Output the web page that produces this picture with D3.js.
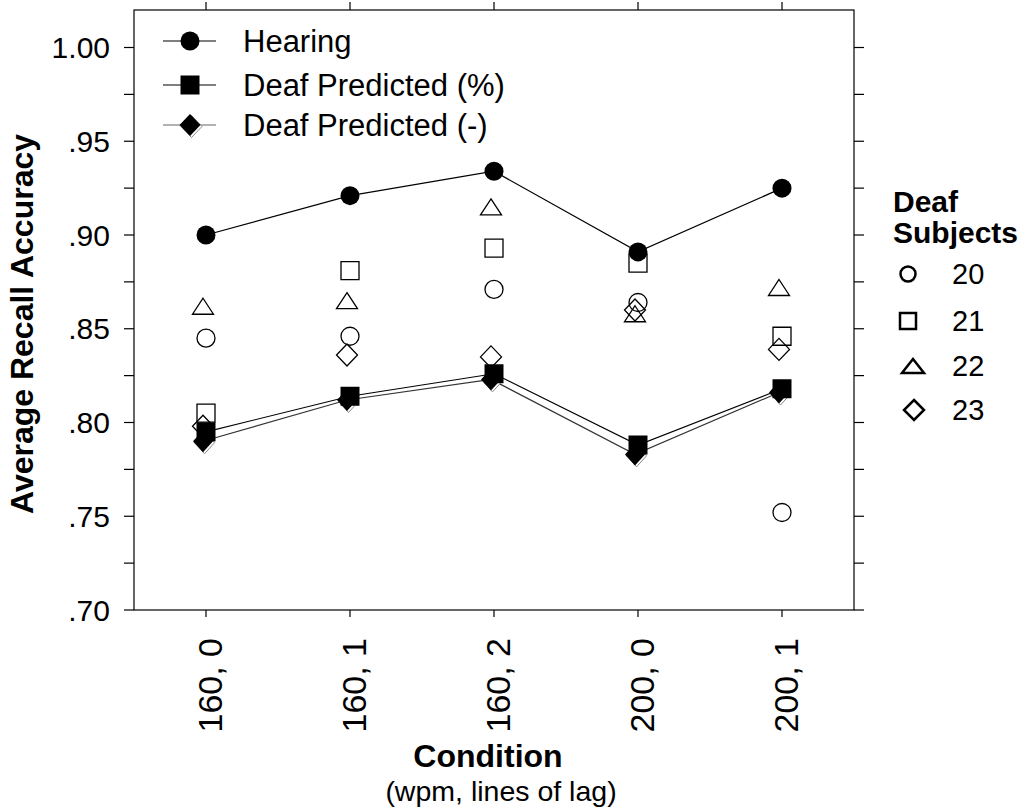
<!DOCTYPE html>
<html>
<head>
<meta charset="utf-8">
<script src="https://cdn.jsdelivr.net/npm/d3@7"></script>
<style>
  body { margin: 0; background: #fff; }
  svg { display: block; }
  text { font-family: Arial, "Liberation Sans", sans-serif; fill: #000; }
</style>
</head>
<body>
<svg id="chart" width="1030" height="810"></svg>
<script>
// Conditions: words per minute, lines of lag
const conditions = ["160, 0", "160, 1", "160, 2", "200, 0", "200, 1"];

// Group means
const hearing       = [0.900, 0.921, 0.934, 0.891, 0.925];
const deafPredPct   = [0.795, 0.814, 0.826, 0.788, 0.818];
const deafPredMinus = [0.790, 0.812, 0.823, 0.783, 0.816];

// Individual deaf subjects
const subjectIds = ["20", "21", "22", "23"];
const subject20 = [0.845, 0.846, 0.871, 0.864, 0.752];
const subject21 = [0.805, 0.881, 0.893, 0.885, 0.846];
const subject22 = [0.862, 0.865, 0.915, 0.858, 0.872];
const subject23 = [0.798, 0.836, 0.835, 0.860, 0.839];

// Y axis
const yMajorTicks = [0.70, 0.75, 0.80, 0.85, 0.90, 0.95, 1.00];
const yTickLabels = [".70", ".75", ".80", ".85", ".90", ".95", "1.00"];
const yMinorTicks = [0.725, 0.775, 0.825, 0.875, 0.925, 0.975];

const legendLabels = ["Hearing", "Deaf Predicted (%)", "Deaf Predicted (-)"];

const svg = d3.select("#chart");
const plotL = 134, plotR = 854, plotT = 10, plotB = 610;

const x = d3.scalePoint().domain(conditions).range([plotL, plotR]).padding(0.5);
const y = d3.scaleLinear().domain([0.70, 1.02]).range([plotB, plotT]);

// Shape outlines centred on the origin
function shapePath(type, w, h) {
  const a = w / 2, b = h / 2;
  switch (type) {
    case "circle":
      return `M${-a},0A${a},${b} 0 1,0 ${a},0A${a},${b} 0 1,0 ${-a},0Z`;
    case "square":
      return `M${-a},${-b}H${a}V${b}H${-a}Z`;
    case "triangle":
      return `M0,${-b}L${a},${b}L${-a},${b}Z`;
    case "diamond":
      return `M0,${-b}L${a},0L0,${b}L${-a},0Z`;
  }
}

const g = svg.append("g");

// Frame
g.append("rect")
  .attr("x", plotL).attr("y", plotT)
  .attr("width", plotR - plotL).attr("height", plotB - plotT)
  .attr("fill", "none").attr("stroke", "#000").attr("stroke-width", 1.2);

// Y ticks on both sides (outward)
const allY = yMajorTicks.concat(yMinorTicks);
g.selectAll(".ytl").data(allY).join("line")
  .attr("x1", plotL - 10).attr("x2", plotL)
  .attr("y1", d => y(d)).attr("y2", d => y(d))
  .attr("stroke", "#000").attr("stroke-width", 1.2);
g.selectAll(".ytr").data(allY).join("line")
  .attr("x1", plotR).attr("x2", plotR + 10)
  .attr("y1", d => y(d)).attr("y2", d => y(d))
  .attr("stroke", "#000").attr("stroke-width", 1.2);

// X ticks top and bottom (outward)
g.selectAll(".xtt").data(conditions).join("line")
  .attr("x1", d => x(d)).attr("x2", d => x(d))
  .attr("y1", plotT - 8).attr("y2", plotT)
  .attr("stroke", "#000").attr("stroke-width", 1.2);
g.selectAll(".xtb").data(conditions).join("line")
  .attr("x1", d => x(d)).attr("x2", d => x(d))
  .attr("y1", plotB).attr("y2", plotB + 7)
  .attr("stroke", "#000").attr("stroke-width", 1.2);

// Y tick labels
g.selectAll(".ylab").data(yMajorTicks).join("text")
  .attr("x", 110).attr("y", d => y(d)).attr("dy", "0.35em")
  .attr("text-anchor", "end").attr("font-size", 30)
  .text((d, i) => yTickLabels[i]);

// X tick labels (rotated, reading upward)
g.selectAll(".xlab").data(conditions).join("text")
  .attr("transform", d => `translate(${x(d) + 16},638) rotate(-90)`)
  .attr("text-anchor", "end").attr("font-size", 34)
  .text(d => d);

// Axis titles
g.append("text")
  .attr("transform", "translate(33,324) rotate(-90)")
  .attr("text-anchor", "middle")
  .attr("font-size", 32).attr("font-weight", "bold")
  .text("Average Recall Accuracy");
g.append("text")
  .attr("x", 488).attr("y", 767).attr("text-anchor", "middle")
  .attr("font-size", 32).attr("font-weight", "bold").text("Condition");
g.append("text")
  .attr("x", 501).attr("y", 801).attr("text-anchor", "middle")
  .attr("font-size", 28.5).text("(wpm, lines of lag)");

// Individual subjects: open markers
const subjectSeries = [
  { id: subjectIds[0], values: subject20, shape: "circle",   w: 18, h: 18, dx: 0 },
  { id: subjectIds[1], values: subject21, shape: "square",   w: 18, h: 18, dx: 0 },
  { id: subjectIds[2], values: subject22, shape: "triangle", w: 21, h: 16, dx: -3 },
  { id: subjectIds[3], values: subject23, shape: "diamond",  w: 21, h: 22, dx: -3 }
];
subjectSeries.forEach(s => {
  g.selectAll(null).data(s.values).join("path")
    .attr("transform", (d, i) => `translate(${x(conditions[i]) + s.dx},${y(d)})`)
    .attr("d", shapePath(s.shape, s.w, s.h))
    .attr("fill", "none").attr("stroke", "#000").attr("stroke-width", 1.3);
});

// Group lines
const line = d3.line().x((d, i) => x(conditions[i])).y(d => y(d));
const lineMinus = d3.line().x((d, i) => x(conditions[i]) - 3).y(d => y(d));

g.append("path").datum(deafPredMinus).attr("d", lineMinus)
  .attr("fill", "none").attr("stroke", "#333").attr("stroke-width", 1.2);
g.append("path").datum(deafPredPct).attr("d", line)
  .attr("fill", "none").attr("stroke", "#000").attr("stroke-width", 1.2);
g.append("path").datum(hearing).attr("d", line)
  .attr("fill", "none").attr("stroke", "#000").attr("stroke-width", 1.2);

// Filled diamond with a light shadow edge
function shadedDiamond(sel, w, h) {
  sel.append("path").attr("d", shapePath("diamond", w, h))
    .attr("transform", "translate(1.5,1.5)")
    .attr("fill", "#fff").attr("stroke", "#888").attr("stroke-width", 1);
  sel.append("path").attr("d", shapePath("diamond", w, h)).attr("fill", "#000");
}

g.selectAll(null).data(deafPredMinus).join("g")
  .attr("transform", (d, i) => `translate(${x(conditions[i]) - 3},${y(d)})`)
  .each(function () { shadedDiamond(d3.select(this), 20, 22); });

g.selectAll(null).data(deafPredPct).join("path")
  .attr("transform", (d, i) => `translate(${x(conditions[i])},${y(d)})`)
  .attr("d", shapePath("square", 19, 19)).attr("fill", "#000");

g.selectAll(null).data(hearing).join("path")
  .attr("transform", (d, i) => `translate(${x(conditions[i])},${y(d)})`)
  .attr("d", shapePath("circle", 19, 19)).attr("fill", "#000");

// Group legend (inside plot, top left)
const legRows = [41, 85, 125];
const leg = g.append("g");
legRows.forEach((ly, i) => {
  leg.append("line").attr("x1", 163).attr("x2", 216).attr("y1", ly).attr("y2", ly)
    .attr("stroke", i === 2 ? "#666" : "#000").attr("stroke-width", 1.2);
  const m = leg.append("g").attr("transform", `translate(190,${ly})`);
  if (i === 0) m.append("path").attr("d", shapePath("circle", 19, 19)).attr("fill", "#000");
  if (i === 1) m.append("path").attr("d", shapePath("square", 19, 19)).attr("fill", "#000");
  if (i === 2) shadedDiamond(m, 21, 22);
  leg.append("text").attr("x", 243).attr("y", ly).attr("dy", "0.36em")
    .attr("font-size", 31).text(legendLabels[i]);
});

// Subject legend (right side)
const sl = g.append("g");
sl.append("text").attr("x", 893).attr("y", 212).attr("font-size", 30)
  .attr("font-weight", "bold").text("Deaf");
sl.append("text").attr("x", 893).attr("y", 243).attr("font-size", 30)
  .attr("font-weight", "bold").text("Subjects");
const subRows = [274, 321, 366, 410];
const legShapes = [
  { shape: "circle",   w: 15, h: 15, cx: 908 },
  { shape: "square",   w: 16, h: 16, cx: 908 },
  { shape: "triangle", w: 22, h: 14, cx: 913 },
  { shape: "diamond",  w: 20, h: 20, cx: 914 }
];
subjectIds.forEach((id, i) => {
  sl.append("path").attr("d", shapePath(legShapes[i].shape, legShapes[i].w, legShapes[i].h))
    .attr("transform", `translate(${legShapes[i].cx},${subRows[i]})`)
    .attr("fill", "none").attr("stroke", "#000").attr("stroke-width", 2.5);
  sl.append("text").attr("x", 952).attr("y", subRows[i]).attr("dy", "0.36em")
    .attr("font-size", 29).text(id);
});
</script>
</body>
</html>
